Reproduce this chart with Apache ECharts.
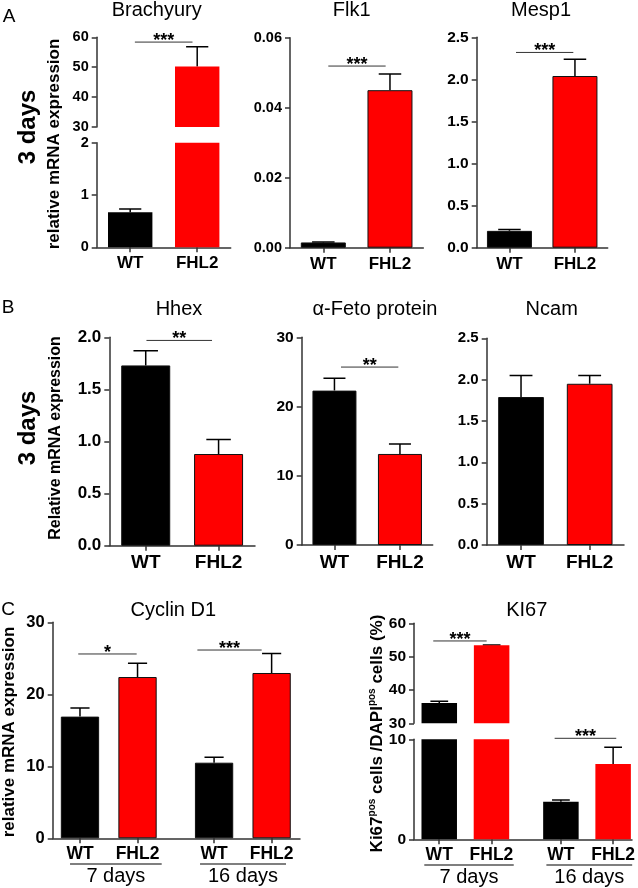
<!DOCTYPE html>
<html>
<head>
<meta charset="utf-8">
<script src="https://cdn.jsdelivr.net/npm/echarts@6/dist/echarts.min.js"></script>
<style>
  html, body { margin: 0; padding: 0; background: #fff; }
  #chart { width: 638px; height: 888px; }
</style>
</head>
<body>
<div id="chart"></div>
<script>
const FONT = "'Liberation Sans', Arial, Helvetica, sans-serif";
const AXIS = '#333';

// two-group panels (A, B)
const pairLabels = ['WT', 'FHL2'];
const pairX = [1, 2];
const pairColors = ['#000000', '#ff0000'];

const brachyuryMean = [0.67, 50.2];
const brachyuryErr = [0.06, 6.6];
const flk1Mean = [0.0015, 0.045];
const flk1Err = [0.0001, 0.0046];
const mesp1Mean = [0.2, 2.04];
const mesp1Err = [0.016, 0.2];
const hhexMean = [1.73, 0.88];
const hhexErr = [0.14, 0.14];
const afpMean = [22.3, 13.15];
const afpErr = [1.8, 1.45];
const ncamMean = [1.79, 1.95];
const ncamErr = [0.26, 0.1];

// time course panels (C)
const timeLabels = ['WT', 'FHL2', 'WT', 'FHL2'];
const timeX = [1, 2, 3.33, 4.33];
const timeColors = ['#000000', '#ff0000', '#000000', '#ff0000'];
const dayLabels = ['7 days', '16 days'];
const cyclinMean = [16.9, 22.4, 10.5, 22.96];
const cyclinErr = [1.2, 1.9, 0.75, 2.7];
const ki67Mean = [36.1, 53.4, 3.76, 7.53];
const ki67Err = [0.5, 0.1, 0.17, 1.67];

// significance brackets: [from x, to x, height], and their marks
const brachyurySig = [[1.07, 1.93, 58.4]];
const flk1Sig = [[1.075, 1.935, 0.0519]];
const mesp1Sig = [[1.1, 1.975, 2.32]];
const hhexSig = [[1.01, 1.91, 1.97]];
const afpSig = [[1.1, 1.975, 25.7]];
const cyclinSig = [[0.97, 1.985, 25.6], [3.04, 4.157, 26.15]];
const ki67TopSig = [[0.885, 1.905, 54.7]];
const ki67LowSig = [[3.21, 4.39, 10.1]];
const stars3 = ['***'];
const stars2 = ['**'];
const cyclinStars = ['*', '***'];

// underlines of the day groups: [from x, to x]
const cyclinDays = [[0.827, 2.42], [3.086, 4.58]];
const ki67Days = [[0.714, 2.427], [3.052, 4.695]];

const panels = [
  // A
  { grid: [96.7, 37.3, 134, 89.7], x: [0.5, 2.5], y: [30, 60, 10], dec: 0, tick: 14.5, xs: pairX, names: pairLabels, colors: pairColors,
    mean: brachyuryMean, err: brachyuryErr, bw: 44.4, xFont: 17, xMargin: 8, hideX: true, broken: true, sig: brachyurySig, marks: stars3 },
  { grid: [96.7, 142.7, 134, 104.6], x: [0.5, 2.5], y: [0, 2, 1], dec: 0, tick: 14.5, xs: pairX, names: pairLabels, colors: pairColors,
    mean: brachyuryMean, err: brachyuryErr, bw: 44.4, xFont: 17, xMargin: 8, broken: true },
  { grid: [290, 37.7, 133.3, 210], x: [0.5, 2.5], y: [0, 0.06, 0.02], dec: 2, tick: 14.5, xs: pairX, names: pairLabels, colors: pairColors,
    mean: flk1Mean, err: flk1Err, bw: 45, xFont: 17, xMargin: 8, sig: flk1Sig, marks: stars3 },
  { grid: [476.7, 37.3, 131, 210.4], x: [0.5, 2.5], y: [0, 2.5, 0.5], dec: 1, tick: 15.5, xs: pairX, names: pairLabels, colors: pairColors,
    mean: mesp1Mean, err: mesp1Err, bw: 45, xFont: 17, xMargin: 8, sig: mesp1Sig, marks: stars3 },
  // B
  { grid: [109.3, 337.3, 145.7, 208.4], x: [0.5, 2.5], y: [0, 2, 0.5], dec: 1, tick: 17, xs: pairX, names: pairLabels, colors: pairColors,
    mean: hhexMean, err: hhexErr, bw: 49, xFont: 19, xMargin: 8, sig: hhexSig, marks: stars2 },
  { grid: [301.7, 337.3, 131, 207.7], x: [0.5, 2.5], y: [0, 30, 10], dec: 0, tick: 15.5, xs: pairX, names: pairLabels, colors: pairColors,
    mean: afpMean, err: afpErr, bw: 44, xFont: 19, xMargin: 8, sig: afpSig, marks: stars2 },
  { grid: [486.7, 338.3, 137.3, 206.7], x: [0.5, 2.5], y: [0, 2.5, 0.5], dec: 1, tick: 15, xs: pairX, names: pairLabels, colors: pairColors,
    mean: ncamMean, err: ncamErr, bw: 45.7, xFont: 19, xMargin: 8 },
  // C
  { grid: [52.7, 622.3, 247.3, 216], x: [0.526, 4.823], y: [0, 30, 10], dec: 0, tick: 16.5, xs: timeX, names: timeLabels, colors: timeColors,
    mean: cyclinMean, err: cyclinErr, bw: 38.3, xFont: 17.5, xMargin: 7, sig: cyclinSig, marks: cyclinStars, days: cyclinDays },
  { grid: [414, 623.3, 218.5, 100], x: [0.517, 4.691], y: [30, 60, 10], dec: 0, tick: 15.5, xs: timeX, names: timeLabels, colors: timeColors,
    mean: ki67Mean, err: ki67Err, bw: 35.5, xFont: 17.5, xMargin: 7, hideX: true, broken: true, sig: ki67TopSig, marks: stars3 },
  { grid: [414, 739.3, 218.5, 100], x: [0.517, 4.691], y: [0, 10, 10], dec: 0, tick: 15.5, xs: timeX, names: timeLabels, colors: timeColors,
    mean: ki67Mean, err: ki67Err, bw: 35.5, xFont: 17.5, xMargin: 7, broken: true, sig: ki67LowSig, marks: stars3, days: ki67Days }
];

function nearest(list, v) {
  let best = 0;
  list.forEach((x, k) => { if (Math.abs(x - v) < Math.abs(list[best] - v)) best = k; });
  return best;
}

function textEl(x, y, text, font, extra) {
  return Object.assign({
    type: 'text', x: x, y: y,
    style: { text: text, font: font, fill: '#000', align: 'center', verticalAlign: 'middle',
             textAlign: 'center', textVerticalAlign: 'middle' }
  }, extra || {});
}

function errorBar(cap) {
  return function (params, api) {
    const p0 = api.coord([api.value(0), api.value(1)]);
    const p1 = api.coord([api.value(0), api.value(1) + api.value(2)]);
    const st = { stroke: '#000', lineWidth: 1.5 };
    return { type: 'group', children: [
      { type: 'line', shape: { x1: p0[0], y1: p0[1], x2: p1[0], y2: p1[1] }, style: st },
      { type: 'line', shape: { x1: p1[0] - cap / 2, y1: p1[1], x2: p1[0] + cap / 2, y2: p1[1] }, style: st }
    ] };
  };
}

function bracket(marks) {
  return function (params, api) {
    const a = api.coord([api.value(0), api.value(2)]);
    const b = api.coord([api.value(1), api.value(2)]);
    return { type: 'group', children: [
      { type: 'line', shape: { x1: a[0], y1: a[1], x2: b[0], y2: b[1] }, style: { stroke: '#333', lineWidth: 1 } },
      textEl((a[0] + b[0]) / 2, a[1] - 1, marks[params.dataIndex], 'bold 18px ' + FONT)
    ] };
  };
}

function dayGroup(params, api) {
  const a = api.coord([api.value(0), 0]);
  const b = api.coord([api.value(1), 0]);
  return { type: 'group', children: [
    { type: 'line', shape: { x1: a[0], y1: a[1] + 25.7, x2: b[0], y2: b[1] + 25.7 }, style: { stroke: '#000', lineWidth: 1.2 } },
    textEl((a[0] + b[0]) / 2, a[1] + 38.5, dayLabels[params.dataIndex], '20px ' + FONT)
  ] };
}

const grids = [], xAxes = [], yAxes = [], series = [];
panels.forEach((p, i) => {
  grids.push({ left: p.grid[0], top: p.grid[1], width: p.grid[2], height: p.grid[3] });
  xAxes.push({
    type: 'value', gridIndex: i, min: p.x[0], max: p.x[1], show: !p.hideX,
    axisLine: { show: true, onZero: false, lineStyle: { color: AXIS, width: 1.5 } },
    axisTick: { show: true, customValues: p.xs, length: 5, lineStyle: { color: AXIS, width: 1.5 } },
    axisLabel: { customValues: p.xs, margin: p.xMargin, color: '#000', fontWeight: 'bold', fontSize: p.xFont,
                 fontFamily: FONT, formatter: v => p.names[nearest(p.xs, v)] },
    splitLine: { show: false }
  });
  yAxes.push({
    type: 'value', gridIndex: i, min: p.y[0], max: p.y[1], interval: p.y[2],
    axisLine: { show: true, onZero: false, lineStyle: { color: AXIS, width: 1.5 } },
    axisTick: { show: true, length: 5, lineStyle: { color: AXIS, width: 1.5 } },
    axisLabel: { margin: 8, color: '#000', fontWeight: 'bold', fontSize: p.tick, fontFamily: FONT,
                 formatter: v => v.toFixed(p.dec) },
    splitLine: { show: false }
  });
  series.push({
    type: 'bar', xAxisIndex: i, yAxisIndex: i, barWidth: p.bw, clip: true, silent: true,
    data: p.xs.map((x, k) => [x, p.mean[k]]),
    itemStyle: { color: q => p.colors[q.dataIndex], borderColor: '#111', borderWidth: p.broken ? 0 : 1 }
  });
  series.push({
    type: 'custom', xAxisIndex: i, yAxisIndex: i, clip: true, silent: true, encode: { x: 0, y: 1 },
    data: p.xs.map((x, k) => [x, p.mean[k], p.err[k]]),
    renderItem: errorBar(p.bw / 2)
  });
  if (p.sig) {
    series.push({
      type: 'custom', xAxisIndex: i, yAxisIndex: i, silent: true, encode: { x: [0, 1], y: 2 },
      data: p.sig, renderItem: bracket(p.marks)
    });
  }
  if (p.days) {
    series.push({
      type: 'custom', xAxisIndex: i, yAxisIndex: i, silent: true, encode: { x: [0, 1], y: 2 },
      data: p.days.map(d => [d[0], d[1], 0]), renderItem: dayGroup
    });
  }
});

const R = Math.PI / 2;
const graphic = [
  textEl(9, 17, 'A', '19px ' + FONT),
  textEl(8, 307.5, 'B', '19px ' + FONT),
  textEl(8, 610, 'C', '19px ' + FONT),
  textEl(156.7, 10, 'Brachyury', '20px ' + FONT),
  textEl(351.7, 10, 'Flk1', '20px ' + FONT),
  textEl(541, 10, 'Mesp1', '20px ' + FONT),
  textEl(179, 309.5, 'Hhex', '20px ' + FONT),
  textEl(375, 309.5, 'α-Feto protein', '20px ' + FONT),
  textEl(551.7, 309.5, 'Ncam', '20px ' + FONT),
  textEl(173.3, 610, 'Cyclin D1', '20px ' + FONT),
  textEl(526.7, 610, 'KI67', '20px ' + FONT),
  textEl(28, 127, '3 days', 'bold 24px ' + FONT, { rotation: R }),
  textEl(28, 428, '3 days', 'bold 24px ' + FONT, { rotation: R }),
  textEl(54, 144, 'relative mRNA expression', 'bold 17px ' + FONT, { rotation: R }),
  textEl(55.5, 438, 'Relative mRNA expression', 'bold 16px ' + FONT, { rotation: R }),
  textEl(9, 732, 'relative mRNA expression', 'bold 17px ' + FONT, { rotation: R }),
  {
    type: 'text', x: 377, y: 733.5, rotation: R,
    style: {
      text: '{m|Ki67}{s|pos}{m| cells /DAPI}{s|pos}{m| cells (%)}',
      align: 'center', verticalAlign: 'middle', textAlign: 'center', textVerticalAlign: 'middle',
      rich: {
        m: { font: 'bold 17px ' + FONT, fill: '#000', lineHeight: 20 },
        s: { font: 'bold 10px ' + FONT, fill: '#000', verticalAlign: 'top', lineHeight: 12 }
      }
    }
  }
];

const chart = echarts.init(document.getElementById('chart'));
chart.setOption({
  animation: false,
  backgroundColor: '#ffffff',
  grid: grids,
  xAxis: xAxes,
  yAxis: yAxes,
  series: series,
  graphic: graphic
});
</script>
</body>
</html>
